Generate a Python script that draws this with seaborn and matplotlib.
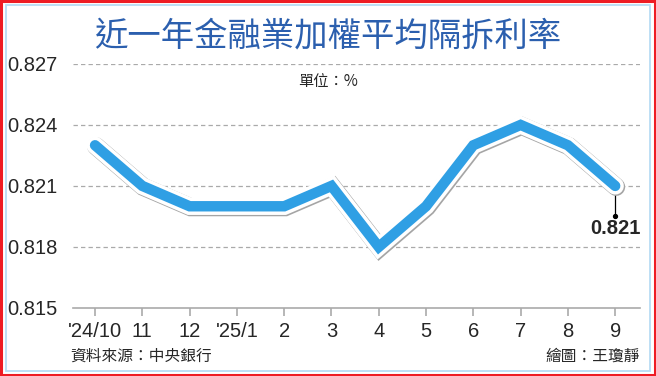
import matplotlib.pyplot as plt
import matplotlib.patheffects as pe
import matplotlib.patches as mpatches
import seaborn as sns
import pandas as pd

months = ["'24/10", '11', '12', "'25/1", '2', '3', '4', '5', '6', '7', '8', '9']
rates = [0.823, 0.821, 0.820, 0.820, 0.820, 0.821, 0.818, 0.820, 0.823, 0.824, 0.823, 0.821]
yticks = [0.815, 0.818, 0.821, 0.824, 0.827]

df = pd.DataFrame({'month': months, 'rate': rates})
df['pos'] = range(len(df))

sns.set_style('white')
plt.rcParams['font.family'] = ['Noto Sans CJK TC', 'DejaVu Sans']

fig = plt.figure(figsize=(6.56, 3.76), dpi=100)
ax = fig.add_axes([0.111, 0.181, 0.865, 0.649])

sns.lineplot(
    data=df,
    x='pos',
    y='rate',
    ax=ax,
    color='#2f9fe4',
    linewidth=7.5,
    solid_capstyle='round',
    solid_joinstyle='miter',
    path_effects=[
        pe.Stroke(linewidth=13, foreground='#a5a5a5', offset=(0.7, -0.7)),
        pe.Stroke(linewidth=12.5, foreground='white'),
        pe.Normal(),
    ],
    zorder=5,
)

ax.set_xlim(-0.47, 11.53)
ax.set_ylim(0.815, 0.827)
ax.set_xticks(df['pos'])
ax.set_xticklabels(months, fontfamily='Liberation Sans', fontsize=14.5)
ax.set_yticks(yticks)
ax.set_yticklabels([f'{v:.3f}' for v in yticks], fontfamily='Liberation Sans', fontsize=14.5)
ax.set_xlabel('')
ax.set_ylabel('')

for v in yticks[1:]:
    ax.axhline(v, color='#aaaaaa', linestyle=(0, (3.5, 2.5)), linewidth=0.9, zorder=1)

for s in ['top', 'right', 'left']:
    ax.spines[s].set_visible(False)
ax.spines['bottom'].set_color('#aaaaaa')
ax.spines['bottom'].set_linewidth(1.2)
ax.tick_params(axis='x', length=6, color='#aaaaaa', width=1.2, pad=4, direction='out', bottom=True)
ax.tick_params(axis='y', length=0, pad=11)

# annotation for the last point
last_x = df['pos'].iloc[-1]
last_y = df['rate'].iloc[-1]
ax.plot([last_x, last_x], [last_y, last_y - 0.0015], color='black', linewidth=0.9, zorder=4)
ax.plot([last_x], [last_y - 0.0015], marker='o', markersize=2.8, color='black', zorder=4)
ax.text(last_x, last_y - 0.00165, f'{last_y:.3f}', ha='center', va='top',
        fontfamily='Liberation Sans', fontweight='bold', fontsize=14.5)

fig.text(0.5, 0.905, '近一年金融業加權平均隔拆利率', ha='center', va='center',
         fontsize=24, color='#2b5fae')
fig.text(0.5, 0.782, '單位：%', ha='center', va='center', fontsize=11)
fig.text(0.107, 0.053, '資料來源：中央銀行', ha='left', va='center', fontsize=11.3)
fig.text(0.976, 0.053, '繪圖：王瓊靜', ha='right', va='center', fontsize=11.3)

# borders
fig.patches.append(mpatches.Rectangle((0.0015, 0.0025), 0.997, 0.995, transform=fig.transFigure,
                                      fill=False, edgecolor='#ee1c24', linewidth=2.2))
fig.patches.append(mpatches.Rectangle((0.0085, 0.013), 0.983, 0.974, transform=fig.transFigure,
                                      fill=False, edgecolor='#b8dcf5', linewidth=1.3))

fig.savefig('out.png', dpi=100)
